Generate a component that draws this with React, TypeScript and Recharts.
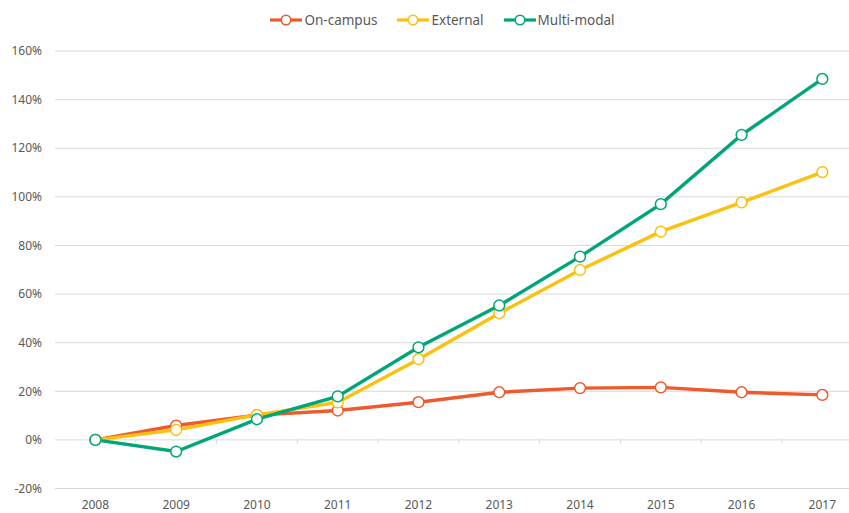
import React from 'react';
import { LineChart, Line, XAxis, YAxis, CartesianGrid, ReferenceLine } from 'recharts';

const years = [2008, 2009, 2010, 2011, 2012, 2013, 2014, 2015, 2016, 2017];
const onCampus = [0, 5.9, 10.2, 12.1, 15.5, 19.6, 21.3, 21.6, 19.6, 18.5];
const external = [0, 4.1, 10.3, 15.4, 33.2, 52.1, 69.9, 85.7, 97.7, 110.2];
const multiModal = [0, -4.8, 8.5, 17.9, 38.1, 55.3, 75.4, 97.0, 125.5, 148.5];
const yTicks = [-20, 0, 20, 40, 60, 80, 100, 120, 140, 160];
const seriesNames = ['On-campus', 'External', 'Multi-modal'];
const seriesKeys = ['onCampus', 'external', 'multiModal'];
const seriesColors = ['#EE5A2C', '#FCC10F', '#00A67A'];

const FONT = '"Noto Sans", sans-serif';

const data = years.map((year, i) => ({
  year,
  onCampus: onCampus[i],
  external: external[i],
  multiModal: multiModal[i],
}));

const boundaries = years.slice(0, -1).map((y) => y + 0.5);

const ChartLegend = () => (
  <div
    style={{
      position: 'absolute',
      left: 0,
      top: 11,
      width: 849,
      display: 'flex',
      justifyContent: 'center',
      alignItems: 'center',
      fontFamily: FONT,
      fontSize: 13.5,
      color: '#595959',
      lineHeight: '18px',
      paddingLeft: 36,
      boxSizing: 'border-box',
    }}
  >
    {seriesNames.map((name, i) => (
      <div key={name} style={{ display: 'flex', alignItems: 'center', margin: '0 10px' }}>
        <svg width={32} height={12} style={{ marginRight: 2 }}>
          <line x1={0} y1={6} x2={32} y2={6} stroke={seriesColors[i]} strokeWidth={3.2} />
          <circle cx={16} cy={6} r={4.8} fill="#fff" stroke={seriesColors[i]} strokeWidth={1.6} />
        </svg>
        <span>{name}</span>
      </div>
    ))}
  </div>
);

export default function App() {
  return (
    <div style={{ position: 'absolute', left: 0, top: 0, width: 849, height: 513, background: '#fff' }}>
      <LineChart width={849} height={513} data={data} margin={{ top: 51, right: 0, bottom: 0, left: 0 }}>
        <CartesianGrid vertical={false} stroke="#D9D9D9" strokeWidth={1} />
        <XAxis
          dataKey="year"
          type="number"
          domain={[2007.5, 2017.33]}
          ticks={years}
          allowDataOverflow
          height={24.5}
          axisLine={false}
          tickLine={false}
          tickSize={4}
          tickMargin={8}
          tick={{ fill: '#595959', fontSize: 12, fontFamily: FONT }}
        />
        <YAxis
          width={55}
          domain={[-20, 160]}
          ticks={yTicks}
          tickFormatter={(v: number) => `${v}%`}
          axisLine={false}
          tickLine={false}
          tickSize={0}
          tickMargin={13}
          tick={{ fill: '#595959', fontSize: 12, fontFamily: FONT }}
        />
        {boundaries.map((b) => (
          <ReferenceLine key={b} segment={[{ x: b, y: 0 }, { x: b, y: -1.6 }]} stroke="#D9D9D9" strokeWidth={1} ifOverflow="visible" />
        ))}
        {seriesKeys.map((k, i) => (
          <Line
            key={k}
            name={seriesNames[i]}
            dataKey={k}
            stroke={seriesColors[i]}
            strokeWidth={3.4}
            dot={{ r: 5.4, fill: '#fff', stroke: seriesColors[i], strokeWidth: 1.5 }}
            isAnimationActive={false}
          />
        ))}
      </LineChart>
      <ChartLegend />
    </div>
  );
}
